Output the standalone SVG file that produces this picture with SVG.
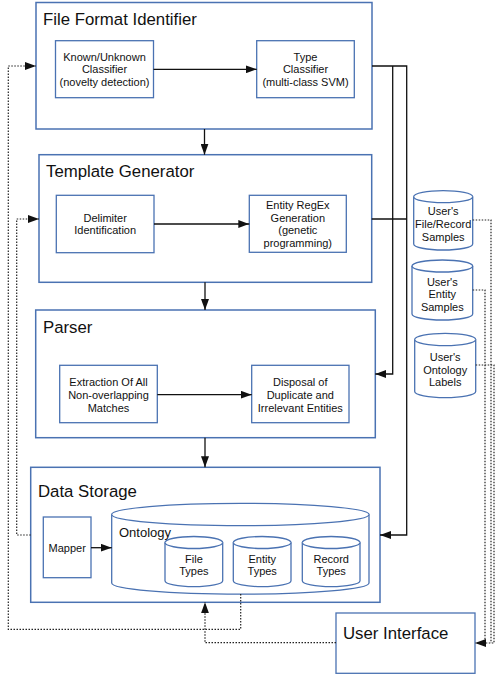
<svg xmlns="http://www.w3.org/2000/svg" width="496" height="675" viewBox="0 0 496 675">
<style>
.outer{fill:#fff;stroke:#4a72b2;stroke-width:1.5}
.inner{fill:#fff;stroke:#4a72b2;stroke-width:1.3}
.cyl{fill:#fff;stroke:#4a72b2;stroke-width:1.3}
.title{font-family:"Liberation Sans",Arial,sans-serif;font-size:16.8px;fill:#111}
.lbl{font-family:"Liberation Sans",Arial,sans-serif;font-size:11px;fill:#111;text-anchor:middle}
.conn{fill:none;stroke:#111;stroke-width:1.3}
.dot{fill:none;stroke:#222;stroke-width:1.2;stroke-dasharray:1.5 1.5}
</style>
<defs>
<marker id="ah" markerUnits="userSpaceOnUse" markerWidth="11" markerHeight="8" refX="11" refY="4" orient="auto">
<path d="M0,0 L11,4 L0,8 z" fill="#111"/>
</marker>
</defs>
<rect width="496" height="675" fill="#fff"/>

<g id="file-format-identifier">
<rect class="outer" x="36" y="2.5" width="336" height="126.5"/>
<text class="title" x="43" y="25">File Format Identifier</text>
</g>
<g id="known-unknown-classifier">
<rect class="inner" x="55.5" y="40.7" width="98" height="57"/>
<text class="lbl" x="104.5" y="61">Known/Unknown</text>
<text class="lbl" x="104.5" y="73.3">Classifier</text>
<text class="lbl" x="104.5" y="85.6">(novelty detection)</text>
</g>
<g id="type-classifier">
<rect class="inner" x="256.7" y="40.7" width="97.6" height="57"/>
<text class="lbl" x="305.5" y="61">Type</text>
<text class="lbl" x="305.5" y="73.3">Classifier</text>
<text class="lbl" x="305.5" y="85.6">(multi-class SVM)</text>
</g>

<g id="template-generator">
<rect class="outer" x="39" y="154.7" width="332.7" height="127.6"/>
<text class="title" x="46" y="177.3">Template Generator</text>
</g>
<g id="delimiter-identification">
<rect class="inner" x="56.3" y="195.3" width="97.7" height="57.4"/>
<text class="lbl" x="105.2" y="221.7">Delimiter</text>
<text class="lbl" x="105.2" y="234">Identification</text>
</g>
<g id="entity-regex-generation">
<rect class="inner" x="249.3" y="195.3" width="97" height="57"/>
<text class="lbl" x="297.8" y="209">Entity RegEx</text>
<text class="lbl" x="297.8" y="221.5">Generation</text>
<text class="lbl" x="297.8" y="234">(genetic</text>
<text class="lbl" x="297.8" y="246.5">programming)</text>
</g>

<g id="parser">
<rect class="outer" x="35.7" y="310" width="339.6" height="127.7"/>
<text class="title" x="43" y="333.3">Parser</text>
</g>
<g id="extraction">
<rect class="inner" x="59.7" y="365.3" width="97.6" height="57.4"/>
<text class="lbl" x="108.5" y="386">Extraction Of All</text>
<text class="lbl" x="108.5" y="398.7">Non-overlapping</text>
<text class="lbl" x="108.5" y="411.5">Matches</text>
</g>
<g id="disposal">
<rect class="inner" x="251.7" y="365.3" width="97.3" height="57.4"/>
<text class="lbl" x="300.3" y="386">Disposal of</text>
<text class="lbl" x="300.3" y="398.7">Duplicate and</text>
<text class="lbl" x="300.3" y="411.5">Irrelevant Entities</text>
</g>

<g id="data-storage">
<rect class="outer" x="30.7" y="467.3" width="349.3" height="135"/>
<text class="title" x="38" y="496.7">Data Storage</text>
</g>
<g id="mapper">
<rect class="inner" x="43.3" y="517" width="47.7" height="60.7"/>
<text class="lbl" x="67.2" y="551.7">Mapper</text>
</g>
<g id="ontology">
<path class="cyl" d="M111.7,514.5 A128.65,11.2 0 0 1 369,514.5 V583 A128.65,11.2 0 0 1 111.7,583 Z"/>
<path class="cyl" d="M111.7,514.5 A128.65,11.2 0 0 0 369,514.5" fill="none"/>
<text x="119" y="537.4" style="font-family:'Liberation Sans',Arial,sans-serif;font-size:13px;fill:#111">Ontology</text>
</g>
<g id="file-types">
<path class="cyl" d="M165,542.5 A28.85,6 0 0 1 222.7,542.5 V580.7 A28.85,6 0 0 1 165,580.7 Z"/>
<path class="cyl" d="M165,542.5 A28.85,6 0 0 0 222.7,542.5" fill="none"/>
<text class="lbl" x="193.9" y="562.7">File</text>
<text class="lbl" x="193.9" y="575">Types</text>
</g>
<g id="entity-types">
<path class="cyl" d="M233.3,542.5 A28.85,6 0 0 1 291,542.5 V580.7 A28.85,6 0 0 1 233.3,580.7 Z"/>
<path class="cyl" d="M233.3,542.5 A28.85,6 0 0 0 291,542.5" fill="none"/>
<text class="lbl" x="262.2" y="562.7">Entity</text>
<text class="lbl" x="262.2" y="575">Types</text>
</g>
<g id="record-types">
<path class="cyl" d="M302.3,542.5 A28.85,6 0 0 1 360,542.5 V580.7 A28.85,6 0 0 1 302.3,580.7 Z"/>
<path class="cyl" d="M302.3,542.5 A28.85,6 0 0 0 360,542.5" fill="none"/>
<text class="lbl" x="331.2" y="562.7">Record</text>
<text class="lbl" x="331.2" y="575">Types</text>
</g>

<g id="user-file-record-samples">
<path class="cyl" d="M413.7,196.7 A29.5,6 0 0 1 472.7,196.7 V244 A29.5,6 0 0 1 413.7,244 Z"/>
<path class="cyl" d="M413.7,196.7 A29.5,6 0 0 0 472.7,196.7" fill="none"/>
<text class="lbl" x="443.2" y="215">User's</text>
<text class="lbl" x="443.2" y="227.7">File/Record</text>
<text class="lbl" x="443.2" y="240.5">Samples</text>
</g>
<g id="user-entity-samples">
<path class="cyl" d="M412,266 A30.35,6 0 0 1 472.7,266 V314 A30.35,6 0 0 1 412,314 Z"/>
<path class="cyl" d="M412,266 A30.35,6 0 0 0 472.7,266" fill="none"/>
<text class="lbl" x="442.3" y="285.7">User's</text>
<text class="lbl" x="442.3" y="298.3">Entity</text>
<text class="lbl" x="442.3" y="310.7">Samples</text>
</g>
<g id="user-ontology-labels">
<path class="cyl" d="M414.7,339.5 A30.5,6.2 0 0 1 475.7,339.5 V391.5 A30.5,6.2 0 0 1 414.7,391.5 Z"/>
<path class="cyl" d="M414.7,339.5 A30.5,6.2 0 0 0 475.7,339.5" fill="none"/>
<text class="lbl" x="445.2" y="361.3">User's</text>
<text class="lbl" x="445.2" y="374">Ontology</text>
<text class="lbl" x="445.2" y="386.3">Labels</text>
</g>

<g id="user-interface">
<rect class="inner" x="336" y="613" width="139" height="60.3"/>
<text class="title" x="343" y="639.3">User Interface</text>
</g>

<g id="connectors">
<path class="conn" d="M153.5,69.3 H256.7" marker-end="url(#ah)"/>
<path class="conn" d="M154,224 H249.3" marker-end="url(#ah)"/>
<path class="conn" d="M157.3,394.7 H251.7" marker-end="url(#ah)"/>
<path class="conn" d="M204.5,129 V154.7" marker-end="url(#ah)"/>
<path class="conn" d="M205,282.3 V310" marker-end="url(#ah)"/>
<path class="conn" d="M205,437.7 V467.3" marker-end="url(#ah)"/>
<path class="conn" d="M91,547.7 H111.7" marker-end="url(#ah)"/>
<path class="conn" d="M372,66 H406.7 V535 H380" marker-end="url(#ah)"/>
<path class="conn" d="M392.7,66 V374 H375.3" marker-end="url(#ah)"/>
<path class="conn" d="M371.7,219 H406.7"/>
<path class="dot" d="M240.7,594 V629.3 H8.3 V66 H36" marker-end="url(#ah)"/>
<path class="dot" d="M30.7,535 H16.7 V219 H39" marker-end="url(#ah)"/>
<path class="dot" d="M336,642.7 H205 V602.3" marker-end="url(#ah)"/>
<path class="dot" d="M472.7,220 H491 V643"/>
<path class="dot" d="M472.7,290 H485 V643"/>
<path class="dot" d="M475.7,365 H494 V643 H475" marker-end="url(#ah)"/>
</g>
</svg>
